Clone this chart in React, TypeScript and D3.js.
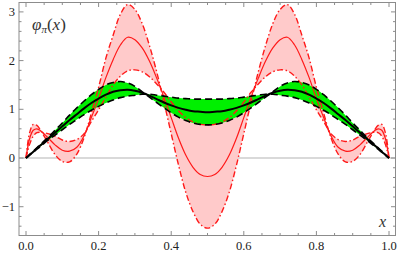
import React from "react";
import * as d3 from "d3";

const xs = [0, 0.01, 0.02, 0.03, 0.04, 0.06, 0.08, 0.10, 0.12, 0.14, 0.16, 0.18, 0.20, 0.22, 0.24, 0.26, 0.28, 0.30, 0.32, 0.34, 0.36, 0.38, 0.40, 0.42, 0.44, 0.46, 0.48, 0.50, 0.52, 0.54, 0.56, 0.58, 0.60, 0.62, 0.64, 0.66, 0.68, 0.70, 0.72, 0.74, 0.76, 0.78, 0.80, 0.82, 0.84, 0.86, 0.88, 0.90, 0.92, 0.94, 0.96, 0.97, 0.98, 0.99, 1.00];

// red band: large-amplitude edge, central, small-amplitude edge
const redA = [0, 0.52, 0.69, 0.67, 0.57, 0.32, 0.07, -0.07, -0.08, 0.08, 0.42, 0.92, 1.45, 2.05, 2.52, 2.95, 3.15, 3.05, 2.76, 2.31, 1.77, 1.15, 0.50, -0.14, -0.70, -1.10, -1.36, -1.44, -1.36, -1.10, -0.70, -0.14, 0.50, 1.15, 1.77, 2.31, 2.76, 3.05, 3.15, 2.95, 2.52, 2.05, 1.45, 0.92, 0.42, 0.08, -0.08, -0.07, 0.07, 0.32, 0.57, 0.67, 0.69, 0.52, 0];
const redC = [0, 0.40, 0.57, 0.60, 0.56, 0.42, 0.27, 0.16, 0.14, 0.22, 0.46, 0.83, 1.22, 1.65, 2.02, 2.32, 2.48, 2.43, 2.26, 1.99, 1.64, 1.25, 0.83, 0.41, 0.06, -0.19, -0.34, -0.38, -0.34, -0.19, 0.06, 0.41, 0.83, 1.25, 1.64, 1.99, 2.26, 2.43, 2.48, 2.32, 2.02, 1.65, 1.22, 0.83, 0.46, 0.22, 0.14, 0.16, 0.27, 0.42, 0.56, 0.60, 0.57, 0.40, 0];
const redB = [0, 0.28, 0.45, 0.52, 0.53, 0.50, 0.45, 0.37, 0.34, 0.38, 0.50, 0.75, 0.99, 1.25, 1.50, 1.68, 1.79, 1.81, 1.77, 1.67, 1.52, 1.35, 1.15, 0.97, 0.83, 0.74, 0.69, 0.68, 0.69, 0.74, 0.83, 0.97, 1.15, 1.35, 1.52, 1.67, 1.77, 1.81, 1.79, 1.68, 1.50, 1.25, 0.99, 0.75, 0.50, 0.38, 0.34, 0.37, 0.45, 0.50, 0.53, 0.52, 0.45, 0.28, 0];

// green band: central (black), large-amplitude edge, small-amplitude edge
const grnG = [0, 0.065, 0.13, 0.20, 0.26, 0.39, 0.52, 0.65, 0.78, 0.90, 1.02, 1.13, 1.22, 1.30, 1.36, 1.39, 1.40, 1.38, 1.34, 1.28, 1.21, 1.14, 1.08, 1.03, 0.99, 0.96, 0.95, 0.94, 0.95, 0.96, 0.99, 1.03, 1.08, 1.14, 1.21, 1.28, 1.34, 1.38, 1.40, 1.39, 1.36, 1.30, 1.22, 1.13, 1.02, 0.90, 0.78, 0.65, 0.52, 0.39, 0.26, 0.20, 0.13, 0.065, 0];
const grnE = [0, 0.07, 0.14, 0.21, 0.28, 0.42, 0.57, 0.72, 0.88, 1.03, 1.17, 1.30, 1.41, 1.50, 1.55, 1.57, 1.54, 1.47, 1.36, 1.25, 1.14, 1.03, 0.93, 0.84, 0.77, 0.72, 0.69, 0.68, 0.69, 0.72, 0.77, 0.84, 0.93, 1.03, 1.14, 1.25, 1.36, 1.47, 1.54, 1.57, 1.55, 1.50, 1.41, 1.30, 1.17, 1.03, 0.88, 0.72, 0.57, 0.42, 0.28, 0.21, 0.14, 0.07, 0];
const grnF = [0, 0.06, 0.12, 0.18, 0.24, 0.36, 0.47, 0.58, 0.69, 0.79, 0.89, 0.98, 1.06, 1.13, 1.19, 1.24, 1.27, 1.29, 1.31, 1.31, 1.29, 1.27, 1.25, 1.23, 1.22, 1.21, 1.21, 1.21, 1.21, 1.21, 1.22, 1.23, 1.25, 1.27, 1.29, 1.31, 1.31, 1.29, 1.27, 1.24, 1.19, 1.13, 1.06, 0.98, 0.89, 0.79, 0.69, 0.58, 0.47, 0.36, 0.24, 0.18, 0.12, 0.06, 0];

const xMajor = [0, 0.2, 0.4, 0.6, 0.8, 1.0];
const xMajorLabels = ["0.0", "0.2", "0.4", "0.6", "0.8", "1.0"];
const xMinor = d3.range(0, 21).map((i) => i * 0.05);
const yMajor = [-1, 0, 1, 2, 3];
const yMajorLabels = ["\u22121", "0", "1", "2", "3"];
const yMinor = d3.range(-7, 16).map((i) => i * 0.2);

const W = 399;
const H = 255;
const L = 19, R = 395.5, T = 2.5, B = 235.5;
const SERIF = "Liberation Serif, Times New Roman, DejaVu Serif, serif";

export default function App() {
  const x = d3.scaleLinear().domain([-0.0193, 1.0179]).range([L, R]);
  const y = d3.scaleLinear().domain([-1.591, 3.193]).range([B, T]);
  const idx = xs.map((_, i) => i);
  const curve = d3.curveCatmullRom.alpha(0.5);

  const area = (lo: number[], hi: number[]) =>
    d3.area<number>().x((i) => x(xs[i])).y0((i) => y(lo[i])).y1((i) => y(hi[i])).curve(curve)(idx) || "";
  const line = (v: number[]) =>
    d3.line<number>().x((i) => x(xs[i])).y((i) => y(v[i])).curve(curve)(idx) || "";

  const frameColor = "#8c8c8c";
  const tickInMajor = 4.5;
  const tickInMinor = 2.5;
  const isMajorX = (v: number) => xMajor.some((m) => Math.abs(m - v) < 1e-6);
  const isMajorY = (v: number) => yMajor.some((m) => Math.abs(m - v) < 1e-6);

  return (
    <svg width={W} height={H} style={{ position: "absolute", left: 0, top: 0 }}>
      <defs>
        <clipPath id="plotclip">
          <rect x={L} y={T} width={R - L} height={B - T} />
        </clipPath>
      </defs>
      <rect x={0} y={0} width={W} height={H} fill="white" />
      <g clipPath="url(#plotclip)">
        <line x1={L} x2={R} y1={y(0)} y2={y(0)} stroke="#b3b3b3" strokeWidth={1.2} />
        <path d={area(redB, redA)} fill="#ffcaca" stroke="none" />
        <path d={area(grnF, grnE)} fill="#00f000" stroke="none" />
        <path d={line(redA)} fill="none" stroke="#ff1a1a" strokeWidth={1.4} strokeDasharray="6,2.5,1.5,2.5" />
        <path d={line(redB)} fill="none" stroke="#ff1a1a" strokeWidth={1.4} strokeDasharray="6,2.5,1.5,2.5" />
        <path d={line(redC)} fill="none" stroke="#ff1a1a" strokeWidth={1.2} />
        <path d={line(grnE)} fill="none" stroke="#000" strokeWidth={1.6} strokeDasharray="7,4" />
        <path d={line(grnF)} fill="none" stroke="#000" strokeWidth={1.6} strokeDasharray="7,4" />
        <path d={line(grnG)} fill="none" stroke="#000" strokeWidth={2} />
      </g>
      <rect x={L} y={T} width={R - L} height={B - T} fill="none" stroke={frameColor} strokeWidth={1} />
      {xMinor.map((v, i) => {
        const len = isMajorX(v) ? tickInMajor : tickInMinor;
        const px = x(v);
        return (
          <g key={"xt" + i}>
            <line x1={px} x2={px} y1={B} y2={B - len} stroke={frameColor} strokeWidth={1} />
            <line x1={px} x2={px} y1={T} y2={T + len} stroke={frameColor} strokeWidth={1} />
          </g>
        );
      })}
      {yMinor.map((v, i) => {
        const len = isMajorY(v) ? tickInMajor : tickInMinor;
        const py = y(v);
        return (
          <g key={"yt" + i}>
            <line x1={L} x2={L + len} y1={py} y2={py} stroke={frameColor} strokeWidth={1} />
            <line x1={R} x2={R - len} y1={py} y2={py} stroke={frameColor} strokeWidth={1} />
          </g>
        );
      })}
      {xMajor.map((v, i) => (
        <text key={"xl" + i} x={x(v)} y={250} textAnchor="middle" style={{ fontFamily: SERIF, fontSize: "12.5px" }} fill="#222">
          {xMajorLabels[i]}
        </text>
      ))}
      {yMajor.map((v, i) => (
        <text key={"yl" + i} x={15} y={y(v) + 4} textAnchor="end" style={{ fontFamily: SERIF, fontSize: "12.5px" }} fill="#222">
          {yMajorLabels[i]}
        </text>
      ))}
      <text x={32} y={30} style={{ fontFamily: SERIF, fontSize: "17px" }} fill="#333">
        <tspan fontStyle="italic">φ</tspan>
        <tspan fontStyle="italic" style={{ fontSize: "11px" }} dy={3}>π</tspan>
        <tspan dy={-3}>(</tspan>
        <tspan fontStyle="italic">x</tspan>
        <tspan>)</tspan>
      </text>
      <text x={379} y={227} style={{ fontFamily: SERIF, fontSize: "16px", fontStyle: "italic" }} fill="#333">
        x
      </text>
    </svg>
  );
}
